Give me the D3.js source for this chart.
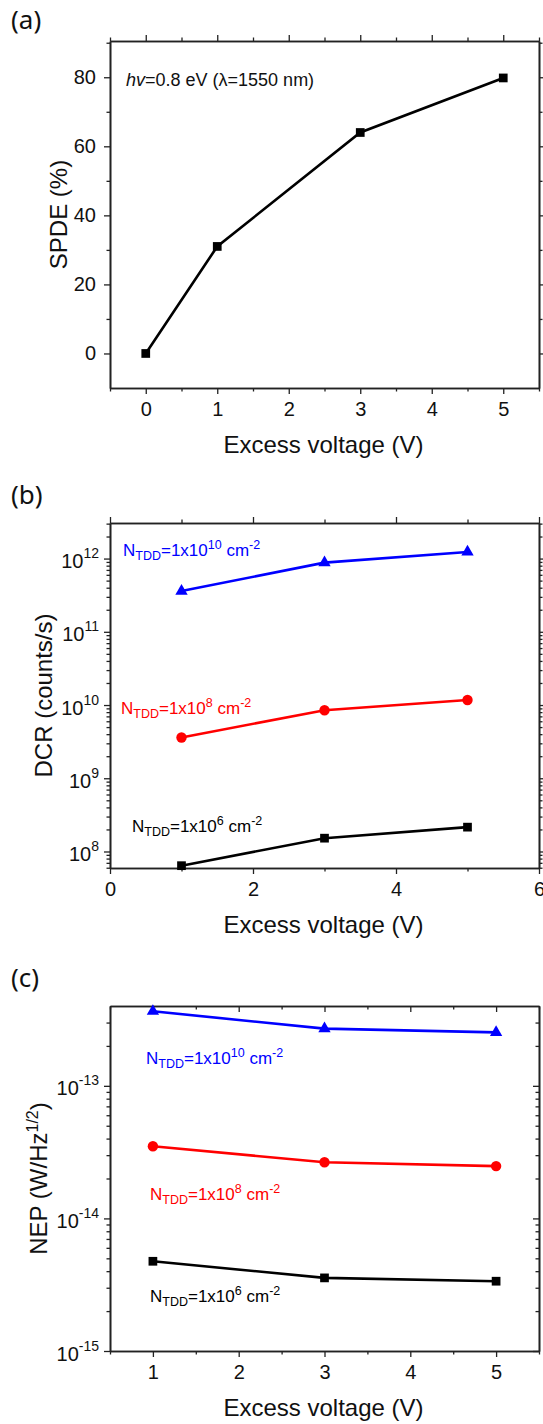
<!DOCTYPE html>
<html>
<head>
<meta charset="utf-8">
<script src="https://cdn.jsdelivr.net/npm/d3@7"></script>
<style>
  body { margin: 0; background: #fff; }
  svg { display: block; font-family: "Liberation Sans", Arial, sans-serif; }
</style>
</head>
<body>
<div id="chart"></div>
<script>
// --- DATA ---
const voltA = [0, 1, 3, 5];
const spde = [0, 31, 64, 79.8];

const voltBC = [1, 3, 5];
const tddExp = ["10", "8", "6"]; // N_TDD = 1x10^exp cm^-2
const seriesColors = ["#0000ff", "#ff0000", "#000000"];
const seriesShapes = [d3.symbolTriangle, d3.symbolCircle, d3.symbolSquare];

const dcr10 = [3.6e11, 8.8e11, 1.23e12];
const dcr8 = [3.6e9, 8.5e9, 1.17e10];
const dcr6 = [6.4e7, 1.52e8, 2.15e8];

const nep10 = [3.65e-13, 2.7e-13, 2.53e-13];
const nep8 = [3.5e-14, 2.65e-14, 2.48e-14];
const nep6 = [4.75e-15, 3.56e-15, 3.36e-15];

const ticksXA = [0, 1, 2, 3, 4, 5];
const ticksYA = [0, 20, 40, 60, 80];
const ticksXB = [0, 2, 4, 6];
const ticksYB = [8, 9, 10, 11, 12];
const ticksXC = [1, 2, 3, 4, 5];
const ticksYC = [-15, -14, -13];

// --- SETUP ---
const W = 543, H = 1424;
const left = 110, right = 539;
const axisColor = "#222";
const FONT = "'Liberation Sans', Arial, sans-serif";

const svg = d3.select("#chart").append("svg").attr("width", W).attr("height", H);

function logMinors(lo, hi) {
  const out = [];
  for (let e = Math.floor(Math.log10(lo)) - 1; e <= Math.ceil(Math.log10(hi)); e++) {
    for (let k = 2; k <= 9; k++) {
      const v = k * Math.pow(10, e);
      if (v > lo && v < hi) out.push(v);
    }
  }
  return out;
}

function styleAxis(g) {
  g.attr("font-family", FONT);
  g.select(".domain").attr("stroke", axisColor).attr("stroke-width", 1.6);
  g.selectAll(".tick line").attr("stroke", axisColor).attr("stroke-width", 1.3);
  g.selectAll(".tick text").attr("fill", "#111").style("font-size", "20px");
}

// draws frame + ticks; topIn/rightIn put mirrored ticks inside
function drawAxes(x, y, top, bottom, o) {
  const g = svg.append("g");
  const ax = (gen, tx, ty) => g.append("g").attr("transform", `translate(${tx},${ty})`).call(gen).call(styleAxis);

  // bottom
  ax(d3.axisBottom(x).tickValues(o.xMajor).tickSize(6).tickSizeOuter(0).tickPadding(8).tickFormat(o.xFmt), 0, bottom);
  ax(d3.axisBottom(x).tickValues(o.xMinor).tickSize(3.5).tickSizeOuter(0).tickFormat(""), 0, bottom);
  // top
  const topGen = o.topIn ? d3.axisBottom : d3.axisTop;
  ax(topGen(x).tickValues(o.xMajor).tickSize(6).tickSizeOuter(0).tickFormat(""), 0, top);
  ax(topGen(x).tickValues(o.xMinor).tickSize(3.5).tickSizeOuter(0).tickFormat(""), 0, top);
  // left
  const yl = ax(d3.axisLeft(y).tickValues(o.yMajor).tickSize(6).tickSizeOuter(0).tickPadding(8).tickFormat(o.yFmt || ""), left, 0);
  ax(d3.axisLeft(y).tickValues(o.yMinor).tickSize(3.5).tickSizeOuter(0).tickFormat(""), left, 0);
  // right
  const rightGen = o.rightIn ? d3.axisLeft : d3.axisRight;
  ax(rightGen(y).tickValues(o.yMajor).tickSize(6).tickSizeOuter(0).tickFormat(""), right, 0);
  ax(rightGen(y).tickValues(o.yMinor).tickSize(3.5).tickSizeOuter(0).tickFormat(""), right, 0);

  if (o.yExp) {
    // power-of-ten labels with superscript
    yl.selectAll(".tick").each(function (d) {
      const t = d3.select(this).append("text")
        .attr("x", -11).attr("y", 9)
        .attr("text-anchor", "end").attr("fill", "#111").style("font-size", "20px");
      t.append("tspan").text("10");
      t.append("tspan").attr("dy", -10).style("font-size", "14px").text(Math.round(Math.log10(d)));
    });
  }
  return g;
}

function panelLabel(txt, yb) {
  svg.append("text").attr("x", 11).attr("y", yb)
    .style("font-family", "'Noto Sans', 'Open Sans', sans-serif").style("font-size", "26px").attr("fill", "#111")
    .text(txt);
}

function xTitle(yb) {
  svg.append("text").attr("x", (left + right) / 2 - 1).attr("y", yb)
    .attr("text-anchor", "middle").style("font-size", "24px").attr("fill", "#111")
    .text("Excess voltage (V)");
}

function yTitle(cx, cy, build) {
  const t = svg.append("text").attr("transform", `translate(${cx},${cy}) rotate(-90)`)
    .attr("text-anchor", "middle").attr("dy", "0.36em").style("font-size", "24px").attr("fill", "#111");
  build(t);
}

function series(x, y, xs, ys, color, shape, size) {
  const pts = xs.map((v, i) => [v, ys[i]]);
  svg.append("path").datum(pts)
    .attr("fill", "none").attr("stroke", color).attr("stroke-width", 2.6)
    .attr("d", d3.line().x((d) => x(d[0])).y((d) => y(d[1])));
  svg.append("g").selectAll("path").data(pts).join("path")
    .attr("transform", (d) => `translate(${x(d[0])},${y(d[1])})`)
    .attr("d", d3.symbol().type(shape).size(size))
    .attr("fill", color);
}

function tddLabel(xp, yb, exp, color) {
  const t = svg.append("text").attr("x", xp).attr("y", yb).attr("fill", color).style("font-size", "17px");
  t.append("tspan").text("N");
  t.append("tspan").attr("dy", 4).style("font-size", "12.5px").text("TDD");
  t.append("tspan").attr("dy", -4).text("=1x10");
  t.append("tspan").attr("dy", -7).style("font-size", "12.5px").text(exp);
  t.append("tspan").attr("dy", 7).text(" cm");
  t.append("tspan").attr("dy", -7).style("font-size", "12.5px").text("-2");
}

const symSize = { tri: 66, circ: 85, sq: 76 };
const sizes = [symSize.tri, symSize.circ, symSize.sq];

// --- PANEL (a) ---
{
  const top = 41, bottom = 388;
  const x = d3.scaleLinear().domain([-0.5, 5.5]).range([left, right]);
  const y = d3.scaleLinear().domain([-10, 90.5]).range([bottom, top]);
  drawAxes(x, y, top, bottom, {
    xMajor: ticksXA, xMinor: d3.range(-0.5, 5.6, 1), xFmt: d3.format("d"),
    yMajor: ticksYA, yMinor: [10, 30, 50, 70, 90], yFmt: d3.format("d"),
    topIn: false, rightIn: false
  });
  series(x, y, voltA, spde, "#000", d3.symbolSquare, symSize.sq);

  const note = svg.append("text").attr("x", 126).attr("y", 86).style("font-size", "18px").attr("fill", "#111");
  note.append("tspan").style("font-style", "italic").text("hv");
  note.append("tspan").text("=0.8 eV (λ=1550 nm)");

  panelLabel("(a)", 29);
  xTitle(453);
  yTitle(58, (top + bottom) / 2, (t) => t.text("SPDE (%)"));
}

// --- PANEL (b) ---
{
  const top = 523, bottom = 868;
  const x = d3.scaleLinear().domain([0, 6]).range([left, right]);
  const y = d3.scaleLog().domain([5.95e7, 3.06e12]).range([bottom, top]);
  drawAxes(x, y, top, bottom, {
    xMajor: ticksXB, xMinor: [1, 3, 5], xFmt: d3.format("d"),
    yMajor: ticksYB.map((e) => Math.pow(10, e)), yMinor: logMinors(5.95e7, 3.06e12),
    yExp: true, topIn: false, rightIn: false
  });
  [dcr10, dcr8, dcr6].forEach((s, i) => series(x, y, voltBC, s, seriesColors[i], seriesShapes[i], sizes[i]));

  tddLabel(123, 556, tddExp[0], seriesColors[0]);
  tddLabel(121, 714, tddExp[1], seriesColors[1]);
  tddLabel(132, 832, tddExp[2], seriesColors[2]);

  panelLabel("(b)", 504);
  xTitle(933);
  yTitle(43, (top + bottom) / 2, (t) => t.text("DCR (counts/s)"));
}

// --- PANEL (c) ---
{
  const top = 1006, bottom = 1351;
  const x = d3.scaleLinear().domain([0.5, 5.5]).range([left, right]);
  const y = d3.scaleLog().domain([1e-15, 4.0e-13]).range([bottom, top]);
  drawAxes(x, y, top, bottom, {
    xMajor: ticksXC, xMinor: [0.5, 1.5, 2.5, 3.5, 4.5, 5.5], xFmt: d3.format("d"),
    yMajor: ticksYC.map((e) => Math.pow(10, e)), yMinor: logMinors(1e-15, 4.0e-13),
    yExp: true, topIn: true, rightIn: true
  });
  [nep10, nep8, nep6].forEach((s, i) => series(x, y, voltBC, s, seriesColors[i], seriesShapes[i], sizes[i]));

  tddLabel(146, 1064, tddExp[0], seriesColors[0]);
  tddLabel(150, 1200, tddExp[1], seriesColors[1]);
  tddLabel(150, 1302, tddExp[2], seriesColors[2]);

  panelLabel("(c)", 987);
  xTitle(1416);
  yTitle(38, (top + bottom) / 2, (t) => {
    t.append("tspan").text("NEP (W/Hz");
    t.append("tspan").attr("dy", -9).style("font-size", "16px").text("1/2");
    t.append("tspan").attr("dy", 9).text(")");
  });
}
</script>
</body>
</html>
